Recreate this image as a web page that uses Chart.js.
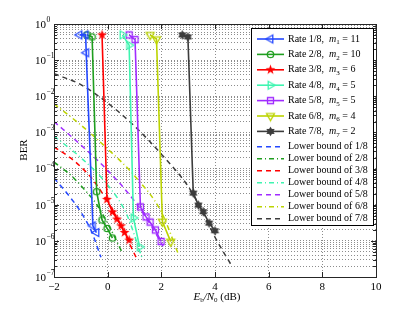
<!DOCTYPE html>
<html>
<head>
<meta charset="utf-8">
<script src="https://cdn.jsdelivr.net/npm/chart.js@4.4.1/dist/chart.umd.min.js"></script>
<style>
  html, body { margin: 0; padding: 0; background: #fff; }
  #wrap { width: 415px; height: 313px; }
</style>
</head>
<body>
<div id="wrap"><canvas id="chart"></canvas></div>
<script>
// BER vs Eb/N0 - rates 1/8 .. 7/8 and their lower bounds
(function () {
    'use strict';

    const xTicks = [-2, 0, 2, 4, 6, 8, 10];
    const yExponents = [0, -1, -2, -3, -4, -5, -6, -7];

    const rateNames = ['Rate 1/8', 'Rate 2/8', 'Rate 3/8', 'Rate 4/8', 'Rate 5/8', 'Rate 6/8', 'Rate 7/8'];
    const mIndex = ['1', '2', '3', '4', '5', '6', '7'];
    const mValue = ['11', '10', '6', '5', '5', '4', '2'];
    const boundNames = ['Lower bound of 1/8', 'Lower bound of 2/8', 'Lower bound of 3/8', 'Lower bound of 4/8',
        'Lower bound of 5/8', 'Lower bound of 6/8', 'Lower bound of 7/8'];

    // simulated curves
    const rate1X = [-1.05, -0.82, -0.8, -0.55, -0.42];
    const rate1Ber = [0.5, 0.5, 0.16, 2.6e-6, 1.7e-6];
    const rate2X = [-0.77, -0.58, -0.41, -0.21, -0.02, 0.18];
    const rate2Ber = [0.5, 0.44, 2.3e-5, 3.8e-6, 2.2e-6, 1.2e-6];
    const rate3X = [-0.21, -0.025, 0.18, 0.35, 0.5, 0.63, 0.8];
    const rate3Ber = [0.5, 1.4e-5, 6.3e-6, 4e-6, 2.6e-6, 1.7e-6, 1.05e-6];
    const rate4X = [0.55, 0.8, 0.96, 1.19];
    const rate4Ber = [0.5, 0.26, 4.3e-6, 6.8e-7];
    const rate5X = [0.8, 1.02, 1.22, 1.43, 1.58, 1.78, 1.99];
    const rate5Ber = [0.5, 0.37, 8.7e-6, 4.6e-6, 3.3e-6, 2e-6, 9.6e-7];
    const rate6X = [1.58, 1.82, 2.04, 2.35];
    const rate6Ber = [0.5, 0.38, 3.4e-6, 9.5e-7];
    const rate7X = [2.78, 2.99, 3.19, 3.38, 3.56, 3.78, 4.0];
    const rate7Ber = [0.5, 0.44, 2.1e-5, 9.8e-6, 6.4e-6, 3.1e-6, 1.9e-6];

    // lower bounds
    const bound1X = [-2, -1.5, -1, -0.6, -0.25];
    const bound1Ber = [5.5e-5, 2e-5, 6.3e-6, 1.8e-6, 3.5e-7];
    const bound2X = [-2, -1.4, -0.9, -0.4, 0.1, 0.53];
    const bound2Ber = [1.5e-4, 6.8e-5, 2.8e-5, 1e-5, 2.2e-6, 4.9e-7];
    const bound3X = [-2, -1.4, -0.9, -0.48, 0.3, 1.06];
    const bound3Ber = [4e-4, 2e-4, 9.5e-5, 4.2e-5, 5e-6, 3.5e-7];
    const bound4X = [-2, -1, 0, 0.7, 1.28];
    const bound4Ber = [7.9e-4, 2e-4, 3.5e-5, 5.6e-6, 3.4e-7];
    const bound5X = [-2, -1, 0, 1, 1.6, 2.14];
    const bound5Ber = [2e-3, 4.5e-4, 8.9e-5, 1.26e-5, 2.8e-6, 5.6e-7];
    const bound6X = [-2, -1, 0, 1, 2, 2.62];
    const bound6Ber = [6.2e-3, 1.6e-3, 3.5e-4, 6.3e-5, 6.3e-6, 4.6e-7];
    const bound7X = [-2, -1, 0, 1, 2, 3, 3.5, 4, 4.63];
    const bound7Ber = [4.2e-2, 2.1e-2, 6.5e-3, 1.5e-3, 2.5e-4, 3.2e-5, 7.1e-6, 1.26e-6, 2e-7];

    const rateX = [rate1X, rate2X, rate3X, rate4X, rate5X, rate6X, rate7X];
    const rateBer = [rate1Ber, rate2Ber, rate3Ber, rate4Ber, rate5Ber, rate6Ber, rate7Ber];
    const boundX = [bound1X, bound2X, bound3X, bound4X, bound5X, bound6X, bound7X];
    const boundBer = [bound1Ber, bound2Ber, bound3Ber, bound4Ber, bound5Ber, bound6Ber, bound7Ber];

    // styles
    const colors = ['#2448ff', '#1f9e1f', '#ff0000', '#3ef5b0', '#a02cff', '#bcd400', '#3c3c3c'];
    const markerKinds = ['triLeft', 'circle', 'pentagram', 'triRight', 'square', 'triDown', 'hexagram'];
    const markerFilled = [false, false, true, false, false, false, true];
    const boundDash = [[5, 4], [5, 3, 1, 3], [5, 4], [5, 3, 1, 3], [5, 4], [5, 3, 1, 3], [5, 4]];
    const SERIF = '"Liberation Serif", "DejaVu Serif", serif';

    function makeMarker(kind, color, filled) {
        const c = document.createElement('canvas');
        c.width = 13; c.height = 13;
        const g = c.getContext('2d');
        g.translate(6.5, 6.5);
        g.strokeStyle = color;
        g.fillStyle = color;
        g.lineWidth = 1.3;
        g.beginPath();
        if (kind === 'circle') {
            g.arc(0, 0, 3.2, 0, Math.PI * 2);
        } else if (kind === 'square') {
            g.rect(-3, -3, 6, 6);
        } else if (kind.indexOf('tri') === 0) {
            const base = { triLeft: Math.PI, triRight: 0, triDown: Math.PI / 2 }[kind];
            for (let i = 0; i < 3; i++) {
                const a = base + i * 2 * Math.PI / 3;
                const px = Math.cos(a) * 4.6, py = Math.sin(a) * 4.6;
                if (i === 0) g.moveTo(px, py); else g.lineTo(px, py);
            }
            g.closePath();
        } else {
            const n = kind === 'pentagram' ? 5 : 6;
            const R = kind === 'pentagram' ? 5.2 : 4.8;
            const r = kind === 'pentagram' ? R * 0.4 : R * 0.58;
            for (let i = 0; i < n * 2; i++) {
                const a = -Math.PI / 2 + i * Math.PI / n;
                const rr = i % 2 === 0 ? R : r;
                const px = Math.cos(a) * rr, py = Math.sin(a) * rr;
                if (i === 0) g.moveTo(px, py); else g.lineTo(px, py);
            }
            g.closePath();
        }
        if (filled) g.fill(); else g.stroke();
        return c;
    }

    const markers = markerKinds.map((k, i) => makeMarker(k, colors[i], markerFilled[i]));

    const datasets = [];
    for (let i = 0; i < 7; i++) {
        datasets.push({
            label: rateNames[i],
            data: rateX[i].map((x, j) => ({ x: x, y: rateBer[i][j] })),
            borderColor: colors[i],
            backgroundColor: colors[i],
            borderWidth: 1.6,
            pointStyle: markers[i],
            pointRadius: 4,
            tension: 0
        });
    }
    for (let i = 0; i < 7; i++) {
        datasets.push({
            label: boundNames[i],
            data: boundX[i].map((x, j) => ({ x: x, y: boundBer[i][j] })),
            borderColor: colors[i],
            borderWidth: 1.5,
            borderDash: boundDash[i],
            pointRadius: 0,
            cubicInterpolationMode: 'monotone'
        });
    }

    // all 1..9 x 10^k ticks so that every minor grid line shows
    const yGridValues = [];
    for (let e = -7; e <= 0; e++) {
        for (let m = 1; m <= 9; m++) {
            const v = m * Math.pow(10, e);
            if (v <= 1.0000001) yGridValues.push(parseFloat(v.toPrecision(3)));
        }
    }

    function drawSubText(ctx, x, y, parts) {
        // parts: [text, style] where style is 'n', 'i' (italic) or 's' (subscript)
        parts.forEach(p => {
            const t = p[0], s = p[1];
            if (s === 's') {
                ctx.font = '7px ' + SERIF;
                ctx.fillText(t, x, y + 3.5);
            } else {
                ctx.font = (s === 'i' ? 'italic ' : '') + p[2] + 'px ' + SERIF;
                ctx.fillText(t, x, y);
            }
            x += ctx.measureText(t).width;
        });
        return x;
    }

    function measureParts(ctx, parts) {
        let w = 0;
        parts.forEach(p => {
            ctx.font = p[1] === 's' ? '7px ' + SERIF : (p[1] === 'i' ? 'italic ' : '') + p[2] + 'px ' + SERIF;
            w += ctx.measureText(p[0]).width;
        });
        return w;
    }

    const decorations = {
        id: 'decorations',
        afterDraw(chart) {
            const ctx = chart.ctx;
            const area = chart.chartArea;
            const xs = chart.scales.x, ys = chart.scales.y;
            ctx.save();

            // axes box
            ctx.strokeStyle = '#262626';
            ctx.lineWidth = 1;
            ctx.strokeRect(Math.round(area.left) + 0.5, Math.round(area.top) + 0.5,
                Math.round(area.right - area.left), Math.round(area.bottom - area.top));

            // inward tick marks
            ctx.beginPath();
            xTicks.forEach(v => {
                const px = Math.round(xs.getPixelForValue(v)) + 0.5;
                ctx.moveTo(px, area.bottom); ctx.lineTo(px, area.bottom - 5);
                ctx.moveTo(px, area.top); ctx.lineTo(px, area.top + 5);
            });
            yGridValues.forEach(v => {
                const py = Math.round(ys.getPixelForValue(v)) + 0.5;
                const major = Math.abs(Math.log10(v) - Math.round(Math.log10(v))) < 1e-6;
                const len = major ? 5 : 3;
                ctx.moveTo(area.left, py); ctx.lineTo(area.left + len, py);
                ctx.moveTo(area.right, py); ctx.lineTo(area.right - len, py);
            });
            ctx.stroke();

            // y tick labels 10^k
            ctx.fillStyle = '#000';
            ctx.textBaseline = 'middle';
            yExponents.forEach(e => {
                const py = ys.getPixelForValue(Math.pow(10, e));
                ctx.font = '11px ' + SERIF;
                ctx.textAlign = 'right';
                ctx.fillText('10', 46, py + 1);
                ctx.font = '7.5px ' + SERIF;
                ctx.textAlign = 'left';
                ctx.fillText(e === 0 ? '0' : '\u2212' + (-e), 46.5, py - 4);
            });

            // axis titles
            ctx.textAlign = 'left';
            const xTitle = [['E', 'i', 11], ['b', 's'], ['/N', 'i', 11], ['0', 's'], [' (dB)', 'n', 11]];
            const w = measureParts(ctx, xTitle);
            drawSubText(ctx, 217 - w / 2, 297, xTitle);

            ctx.save();
            ctx.translate(24, 150);
            ctx.rotate(-Math.PI / 2);
            ctx.font = '11px ' + SERIF;
            ctx.textAlign = 'center';
            ctx.fillText('BER', 0, 0);
            ctx.restore();

            // legend
            const bx = 251, by = 28, bw = 122, bh = 197;
            ctx.fillStyle = '#fff';
            ctx.fillRect(bx, by, bw, bh);
            ctx.strokeStyle = '#000';
            ctx.lineWidth = 1;
            ctx.strokeRect(bx + 0.5, by + 0.5, bw, bh);
            ctx.textAlign = 'left';
            ctx.textBaseline = 'middle';
            for (let i = 0; i < 14; i++) {
                const rowY = i < 7 ? 39 + i * 15.4 : 146.7 + (i - 7) * 12;
                const c = i % 7;
                ctx.strokeStyle = colors[c];
                ctx.lineWidth = i < 7 ? 1.6 : 1.5;
                ctx.setLineDash(i < 7 ? [] : boundDash[c]);
                ctx.beginPath();
                ctx.moveTo(257, rowY); ctx.lineTo(284, rowY);
                ctx.stroke();
                ctx.setLineDash([]);
                ctx.fillStyle = '#000';
                if (i < 7) {
                    ctx.drawImage(markers[c], 270.5 - 6.5, rowY - 6.5);
                    drawSubText(ctx, 288, rowY, [[rateNames[c] + ',  ', 'n', 10], ['m', 'i', 10],
                        [mIndex[c], 's'], [' = ' + mValue[c], 'n', 10]]);
                } else {
                    ctx.font = '10px ' + SERIF;
                    ctx.fillText(boundNames[c], 288, rowY);
                }
            }
            ctx.restore();
        }
    };

    new Chart(document.getElementById('chart').getContext('2d'), {
        type: 'line',
        data: { datasets: datasets },
        options: {
            responsive: true,
            maintainAspectRatio: false,
            animation: false,
            devicePixelRatio: 1,
            layout: { padding: { left: 0, top: 24, right: 39, bottom: 0 } },
            plugins: { legend: { display: false }, tooltip: { enabled: false } },
            scales: {
                x: {
                    type: 'linear',
                    min: -2,
                    max: 10,
                    afterBuildTicks: s => { s.ticks = xTicks.map(v => ({ value: v })); },
                    afterFit: s => { s.height = 36; },
                    ticks: {
                        color: '#000', font: { family: SERIF, size: 11 }, padding: 4, maxRotation: 0,
                        callback: v => String(v).replace('-', '\u2212')
                    },
                    grid: { color: 'rgba(0,0,0,0.45)', lineWidth: 1, drawTicks: false },
                    border: { display: false, dash: [1, 2] }
                },
                y: {
                    type: 'logarithmic',
                    min: 1e-7,
                    max: 1,
                    afterBuildTicks: s => { s.ticks = yGridValues.map(v => ({ value: v })); },
                    afterFit: s => { s.width = 54; },
                    ticks: { display: false },
                    grid: { color: 'rgba(0,0,0,0.45)', lineWidth: 1, drawTicks: false },
                    border: { display: false, dash: [1, 2] }
                }
            }
        },
        plugins: [decorations]
    });
})();
</script>
</body>
</html>
